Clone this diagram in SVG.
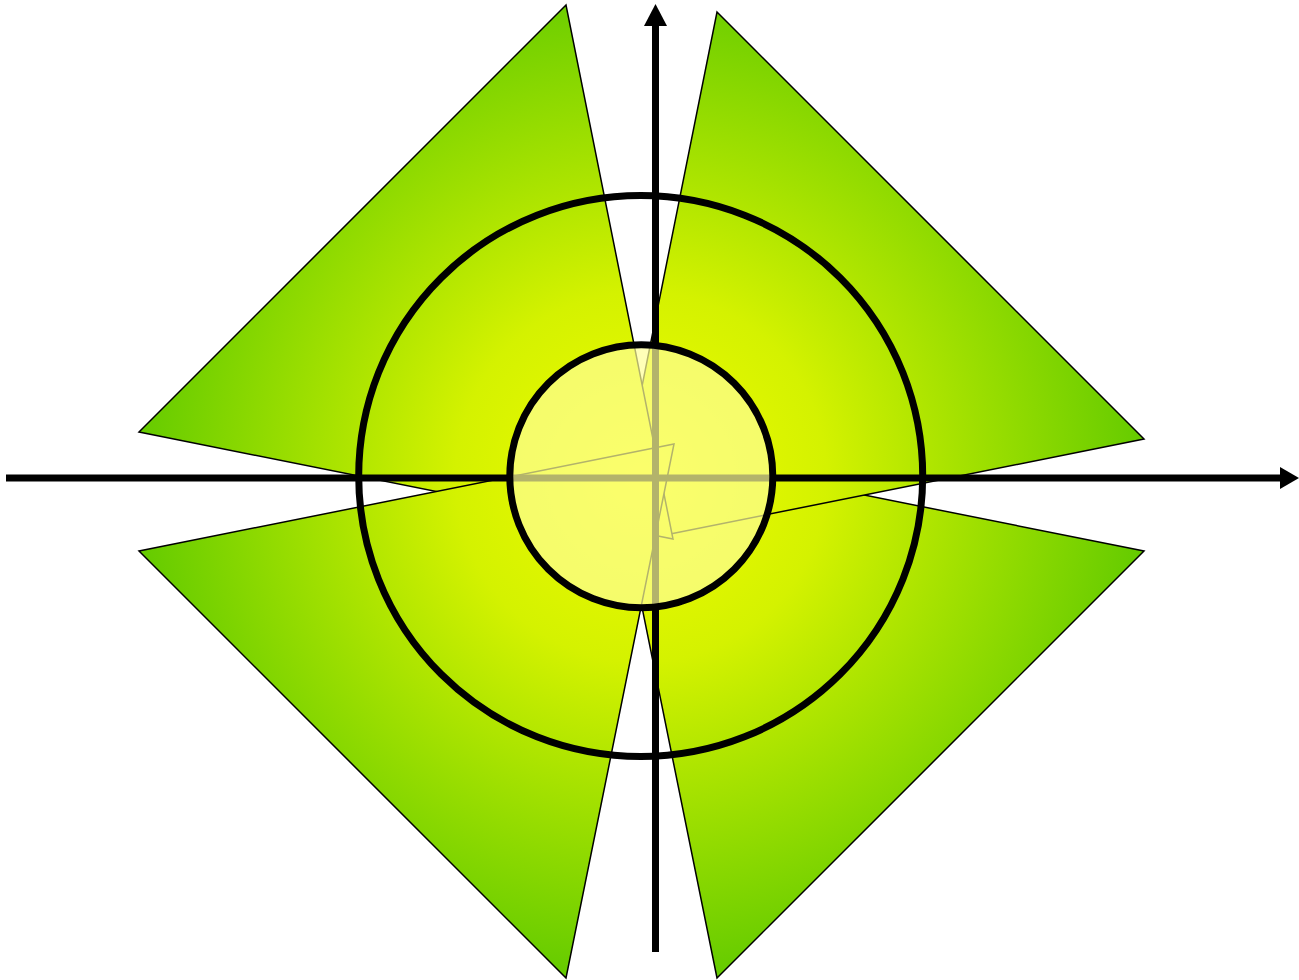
<svg xmlns="http://www.w3.org/2000/svg" width="1299" height="980" viewBox="0 0 1299 980">
  <defs>
    <radialGradient id="g" gradientUnits="userSpaceOnUse" cx="641" cy="477" r="530">
      <stop offset="0" stop-color="#f2fc00"/>
      <stop offset="0.35" stop-color="#d4f200"/>
      <stop offset="1" stop-color="#5cc800"/>
    </radialGradient>
    <style>
      .tri { fill: url(#g); stroke: #000; stroke-width: 1.5; stroke-linejoin: miter; }
      .ring { fill: none; stroke: #000; stroke-width: 7; }
      .axis { stroke: #000; stroke-width: 7; fill: none; }
      .head { fill: #000; }
    </style>
  </defs>
  <rect width="1299" height="980" fill="#fff"/>
  <g id="tri-br"><polygon class="tri" points="1144,551 717,978 609,444"/></g>
  <g id="tri-tr"><polygon class="tri" points="717,12 1144,439 610,546"/></g>
  <g id="tri-tl"><polygon class="tri" points="566,5 139,432 673,539"/></g>
  <g id="tri-bl"><polygon class="tri" points="139,551 566,978 674,444"/></g>
  <g id="connectors">
    <line class="axis" x1="6" y1="478" x2="1282" y2="478"/>
    <polygon class="head" points="1280,467 1299,478 1280,489"/>
    <line class="axis" x1="655.5" y1="952" x2="655.5" y2="24"/>
    <polygon class="head" points="644,26 655.5,4 667,26"/>
  </g>
  <g id="outer-circle"><ellipse class="ring" cx="640.7" cy="476" rx="282" ry="280.5"/></g>
  <g id="inner-circle"><circle cx="641.3" cy="476.3" r="131.5" fill="#ffff99" fill-opacity="0.7" stroke="#000" stroke-width="7"/></g>
</svg>
